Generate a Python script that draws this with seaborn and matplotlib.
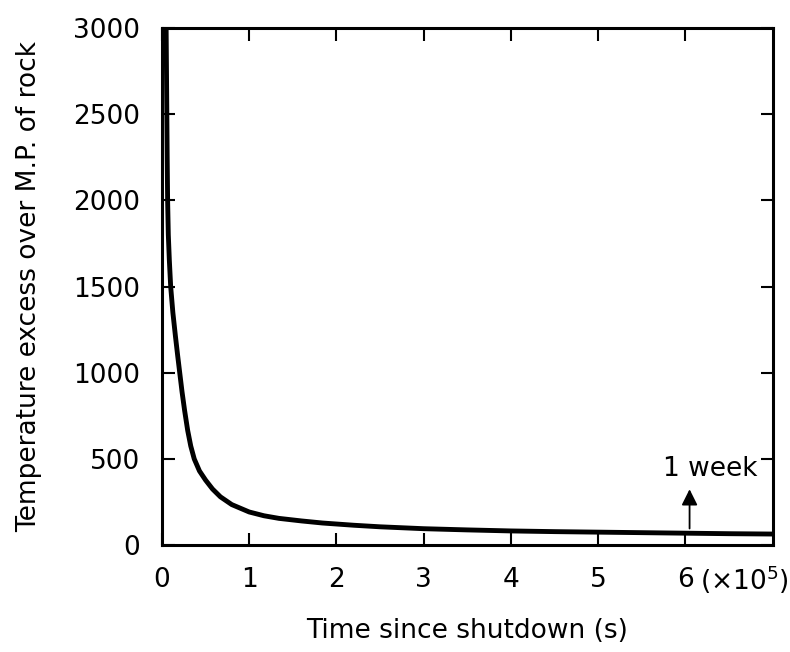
import numpy as np
import pandas as pd
import matplotlib
matplotlib.use("Agg")
import matplotlib.pyplot as plt
import seaborn as sns

# Valors llegits de la figura (temps en unitats de 1e5 s)
temps = [0.048, 0.052, 0.056, 0.060, 0.065, 0.073, 0.085, 0.10, 0.125, 0.155,
         0.18, 0.205, 0.23, 0.26, 0.295, 0.33, 0.37, 0.43, 0.50, 0.58,
         0.67, 0.80, 1.0, 1.17, 1.34, 1.6, 1.84, 2.2, 2.5, 3.0,
         3.5, 4.0, 4.5, 5.0, 5.5, 6.0, 6.5, 7.0]
excess = [3000, 2750, 2500, 2250, 2000, 1800, 1650, 1500, 1350, 1210,
          1100, 995, 890, 780, 665, 575, 500, 430, 377, 325,
          280, 235, 192, 170, 155, 140, 128, 115, 106, 95,
          88, 82, 78, 75, 72, 69, 66, 64]

xticks = [0, 1, 2, 3, 4, 5, 6]
yticks = [0, 500, 1000, 1500, 2000, 2500, 3000]
setmana = 6.048  # 1 week en 1e5 s

df = pd.DataFrame({"temps": temps, "excess": excess})

sns.set_style("ticks")
plt.rcParams["font.family"] = ["DejaVu Sans"]
plt.rcParams["text.color"] = "black"
plt.rcParams["axes.labelcolor"] = "black"
plt.rcParams["xtick.color"] = "black"
plt.rcParams["ytick.color"] = "black"

fig = plt.figure(figsize=(7.9, 6.52), dpi=100)
ax = fig.add_axes([0.205, 0.164, 0.773, 0.793])

sns.lineplot(data=df, x="temps", y="excess", color="black", linewidth=3.5, ax=ax)

ax.set_xlim(0, 7)
ax.set_ylim(0, 3000)
ax.set_xticks(xticks)
ax.set_yticks(yticks)
ax.set_xticklabels([str(t) for t in xticks], fontsize=19)
ax.set_yticklabels([str(t) for t in yticks], fontsize=19)
ax.tick_params(direction="in", length=9, width=1.5, top=True, right=True, pad=16)

for s in ax.spines.values():
    s.set_linewidth(2.2)
    s.set_color("black")

ax.text(6.17, -0.068, "(×10$^5$)", transform=ax.get_xaxis_transform(),
        fontsize=19, ha="left", va="center")

ax.annotate("", xy=(setmana, 340), xytext=(setmana, 80),
            arrowprops=dict(arrowstyle="-|>", color="black", lw=1.3, mutation_scale=24))
ax.text(6.28, 440, "1 week", fontsize=19, ha="center", va="center")

ax.set_xlabel("Time since shutdown (s)", fontsize=19, labelpad=18)
ax.set_ylabel("Temperature excess over M.P. of rock", fontsize=19, labelpad=22)

fig.savefig("out.png", dpi=100)
